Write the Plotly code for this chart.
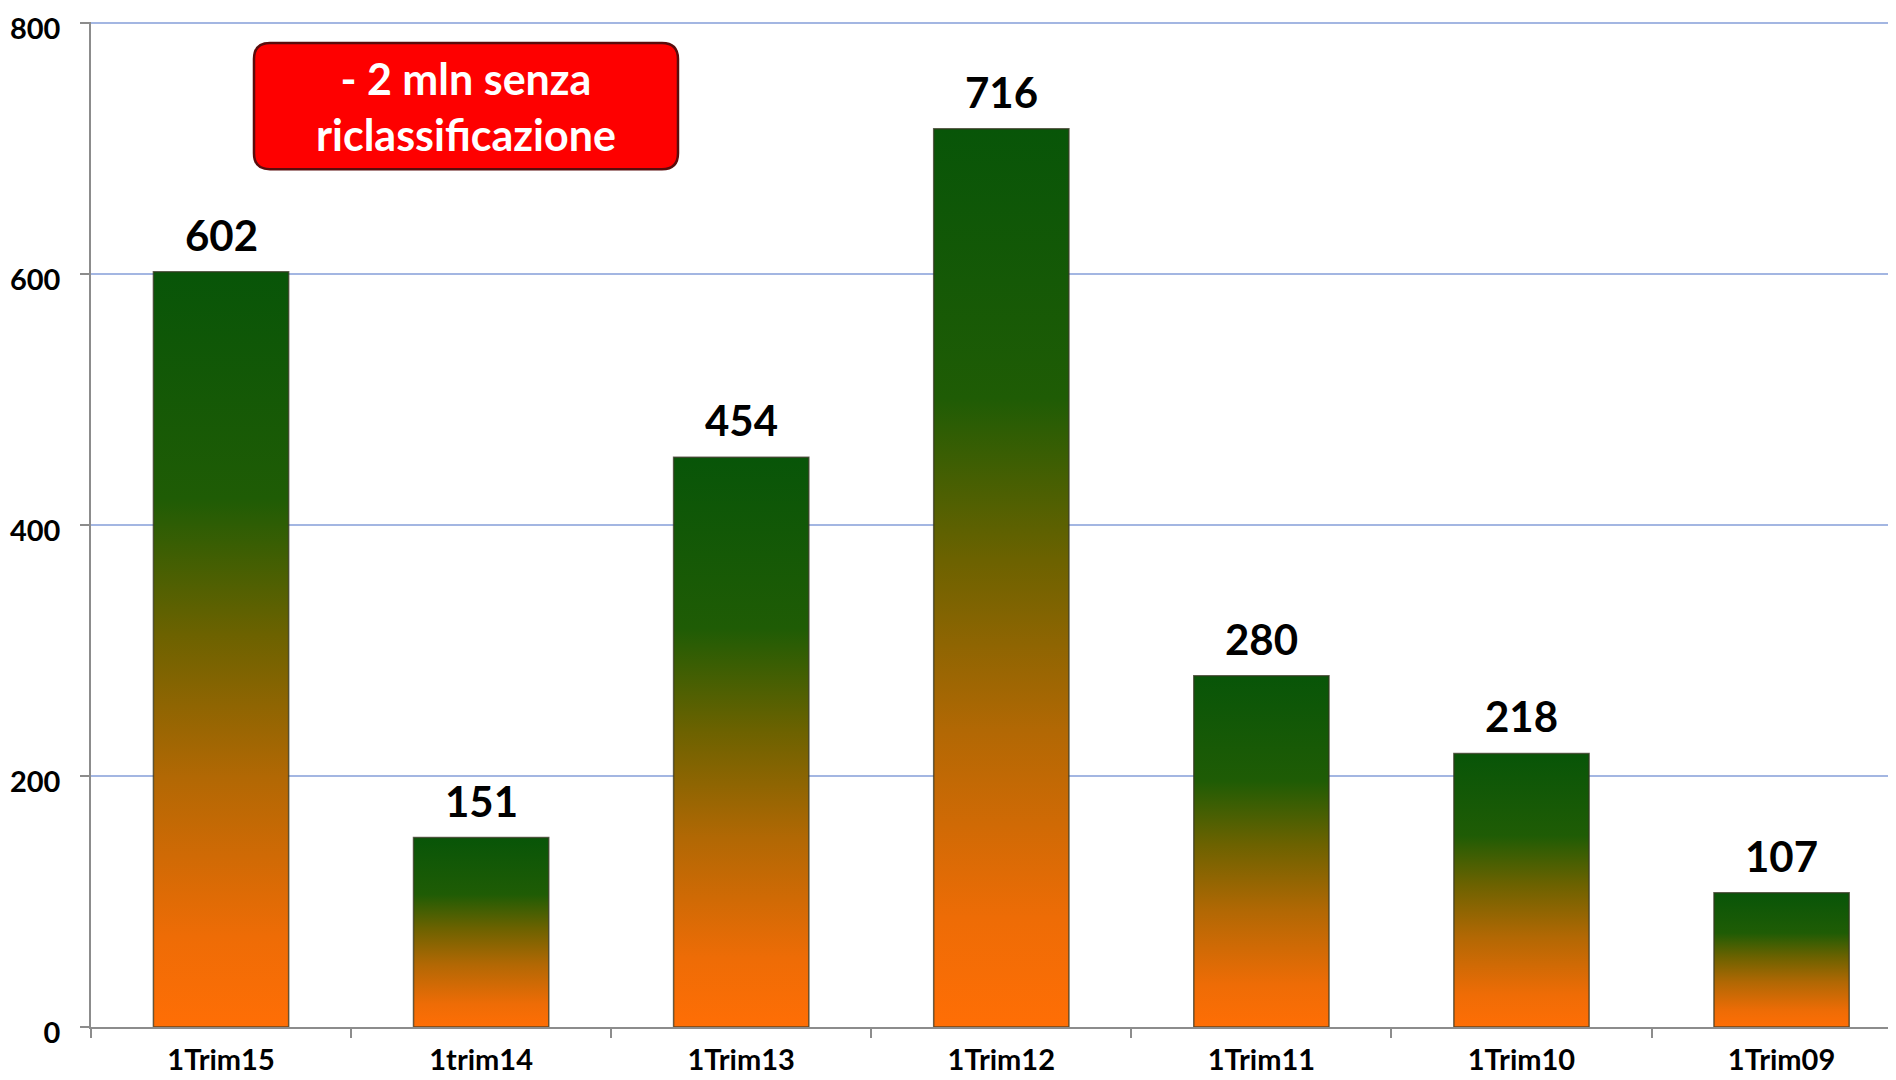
import plotly.graph_objects as go

categories = ["1Trim15", "1trim14", "1Trim13", "1Trim12", "1Trim11", "1Trim10", "1Trim09"]
values = [602, 151, 454, 716, 280, 218, 107]
y_ticks = [0, 200, 400, 600, 800]
note_lines = ["- 2 mln senza", "riclassificazione"]

FONT = "Lato"
BAR_W = 0.52
AXIS_COL = "#8c8c8c"
GRID_COL = "#a3b6e2"
gradient = [[0.0, "#ff6e05"], [0.12, "#ee6c06"], [0.33, "#b26804"],
            [0.52, "#6c6200"], [0.70, "#1f5c05"], [1.0, "#085508"]]

fig = go.Figure()
for i, (cat, v) in enumerate(zip(categories, values)):
    x0, x1 = i - BAR_W / 2, i + BAR_W / 2
    fig.add_trace(go.Scatter(
        x=[x0, x0, x1, x1, x0], y=[0, v, v, 0, 0],
        mode="lines", fill="toself", name=cat,
        line=dict(color="rgba(55,55,35,0.75)", width=1.5),
        fillgradient=dict(type="vertical", colorscale=gradient),
        hoverinfo="skip", showlegend=False,
    ))
    fig.add_annotation(x=i, y=v, text=str(v), showarrow=False,
                       yanchor="bottom", yshift=10,
                       font=dict(family=FONT, size=42, color="#000", weight="bold"))

# red rounded note box (paper coordinates)
PW, PH = 1805, 1005
bx0, bx1, by0, by1 = 0.0903, 0.3252, 0.8536, 0.979
rx, ry = 16 / PW, 16 / PH
path = (f"M {bx0+rx},{by0} L {bx1-rx},{by0} Q {bx1},{by0} {bx1},{by0+ry} "
        f"L {bx1},{by1-ry} Q {bx1},{by1} {bx1-rx},{by1} L {bx0+rx},{by1} "
        f"Q {bx0},{by1} {bx0},{by1-ry} L {bx0},{by0+ry} Q {bx0},{by0} {bx0+rx},{by0} Z")
fig.add_shape(type="path", path=path, xref="paper", yref="paper",
              fillcolor="#fe0000", line=dict(color="#5a0c0c", width=2.5), layer="above")
fig.add_annotation(x=(bx0 + bx1) / 2, y=(by0 + by1) / 2, xref="paper", yref="paper",
                   xanchor="center", yanchor="middle",
                   text="<br>".join(note_lines), showarrow=False, align="center",
                   font=dict(family=FONT, size=43, color="white", weight="bold"))

fig.update_layout(
    width=1888, height=1072,
    margin=dict(l=83, r=0, t=14, b=53),
    plot_bgcolor="white", paper_bgcolor="white",
    showlegend=False,
    xaxis=dict(
        range=[-0.5, 6.44], tickmode="array",
        tickvals=list(range(len(categories))),
        ticktext=categories, automargin=False,
        ticks="", showgrid=False, zeroline=False,
        showline=True, linecolor=AXIS_COL, linewidth=1.5,
        tickfont=dict(family=FONT, size=29, color="#000", weight="bold"),
        ticklabelstandoff=6, ticklabeloverflow="allow",
        minor=dict(tickmode="array",
                   tickvals=[k - 0.5 for k in range(len(categories))],
                   ticks="outside", ticklen=9, tickcolor=AXIS_COL, tickwidth=1.5,
                   showgrid=False),
    ),
    yaxis=dict(
        range=[0, 801], tickmode="array", tickvals=y_ticks,
        ticktext=[str(t) for t in y_ticks], automargin=False,
        ticks="outside", ticklen=9, tickcolor=AXIS_COL, tickwidth=1.5,
        showline=True, linecolor=AXIS_COL, linewidth=1.5,
        gridcolor=GRID_COL, gridwidth=1.5, zeroline=False,
        tickfont=dict(family=FONT, size=29, color="#000", weight="bold"),
        ticklabelstandoff=14, ticklabeloverflow="allow", ticklabelshift=6,
    ),
)

fig.write_html("out.html")
